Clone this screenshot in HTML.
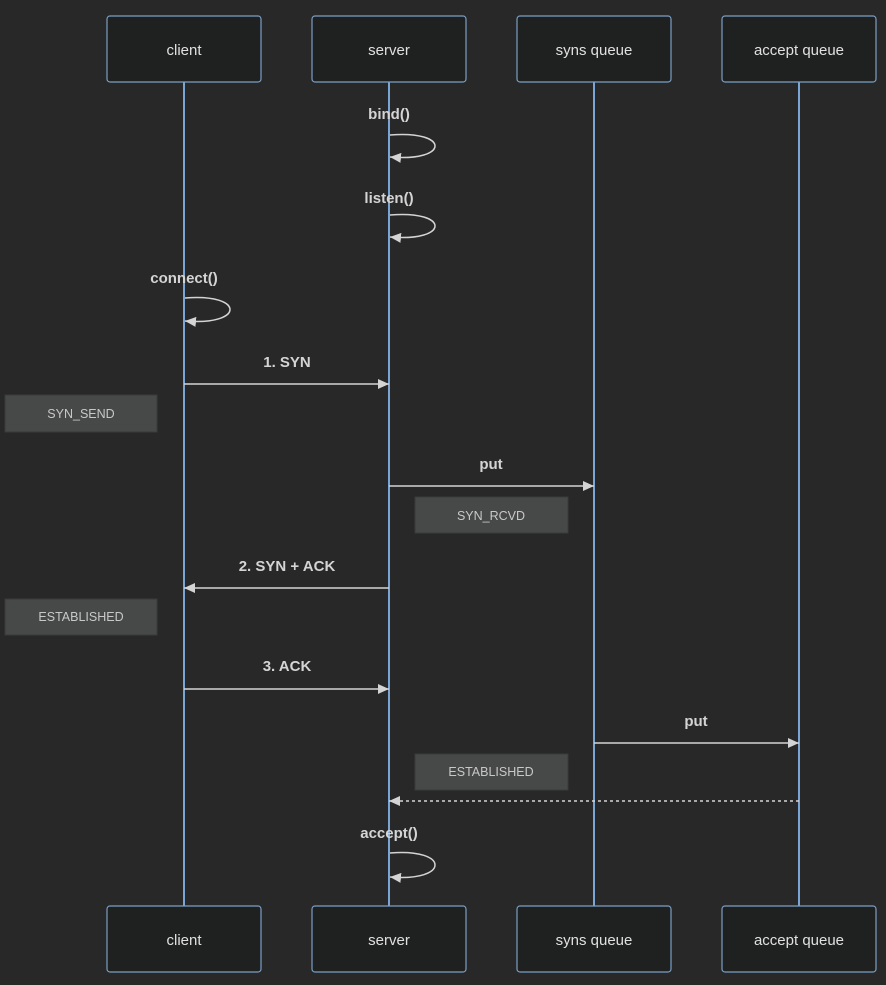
<!DOCTYPE html>
<html><head><meta charset="utf-8"><style>
html,body{margin:0;padding:0;background:#282828;}
svg{display:block;}
text{font-family:"Liberation Sans","DejaVu Sans",sans-serif;}
.a{font-size:15px;fill:#e0e0e0;text-anchor:middle;}
.m{font-size:15px;font-weight:bold;fill:#d4d4d4;text-anchor:middle;}
.n{font-size:12.5px;fill:#c8c8c8;text-anchor:middle;}
</style></head><body>
<svg width="886" height="985" viewBox="0 0 886 985" xmlns="http://www.w3.org/2000/svg">
<defs>
<marker id="ar" markerWidth="12" markerHeight="10" refX="11" refY="5" orient="auto" markerUnits="userSpaceOnUse">
<path d="M0,0 L11,5 L0,10 z" fill="#d4d4d4"/></marker>
</defs>
<rect width="886" height="985" fill="#282828"/>
<!-- lifelines -->
<g stroke="#7aa6d6" stroke-width="2">
<line x1="184" y1="82" x2="184" y2="906"/>
<line x1="389" y1="82" x2="389" y2="906"/>
<line x1="594" y1="82" x2="594" y2="906"/>
<line x1="799" y1="82" x2="799" y2="906"/>
</g>
<!-- actor boxes -->
<g fill="#1f2020" stroke="#7a9fc6" stroke-width="1.2">
<rect x="107" y="16" width="154" height="66" rx="3"/>
<rect x="312" y="16" width="154" height="66" rx="3"/>
<rect x="517" y="16" width="154" height="66" rx="3"/>
<rect x="722" y="16" width="154" height="66" rx="3"/>
<rect x="107" y="906" width="154" height="66" rx="3"/>
<rect x="312" y="906" width="154" height="66" rx="3"/>
<rect x="517" y="906" width="154" height="66" rx="3"/>
<rect x="722" y="906" width="154" height="66" rx="3"/>
</g>
<g class="a">
<text x="184" y="55">client</text><text x="389" y="55">server</text>
<text x="594" y="55">syns queue</text><text x="799" y="55">accept queue</text>
<text x="184" y="945">client</text><text x="389" y="945">server</text>
<text x="594" y="945">syns queue</text><text x="799" y="945">accept queue</text>
</g>
<!-- notes -->
<g fill="#474848" stroke="#3a3a3a" stroke-width="1">
<rect x="5" y="395" width="152" height="37"/>
<rect x="415" y="497" width="153" height="36"/>
<rect x="5" y="599" width="152" height="36"/>
<rect x="415" y="754" width="153" height="36"/>
</g>
<g class="n">
<text x="81" y="418">SYN_SEND</text>
<text x="491" y="520">SYN_RCVD</text>
<text x="81" y="621">ESTABLISHED</text>
<text x="491" y="776">ESTABLISHED</text>
</g>
<!-- self loops -->
<g fill="none" stroke="#d4d4d4" stroke-width="1.5">
<path d="M390,135 C450,130 450,162 390,157" marker-end="url(#ar)"/>
<path d="M390,215 C450,210 450,242 390,237" marker-end="url(#ar)"/>
<path d="M185,298 C245,293 245,326 185,321" marker-end="url(#ar)"/>
<path d="M390,853 C450,848 450,882 390,877" marker-end="url(#ar)"/>
</g>
<g class="m">
<text x="389" y="119">bind()</text>
<text x="389" y="203">listen()</text>
<text x="184" y="283">connect()</text>
<text x="389" y="838">accept()</text>
<text x="287" y="367">1. SYN</text>
<text x="491" y="469">put</text>
<text x="287" y="571">2. SYN + ACK</text>
<text x="287" y="671">3. ACK</text>
<text x="696" y="726">put</text>
</g>
<!-- messages -->
<g stroke="#d4d4d4" stroke-width="1.5" fill="none">
<line x1="184" y1="384" x2="389" y2="384" marker-end="url(#ar)"/>
<line x1="389" y1="486" x2="594" y2="486" marker-end="url(#ar)"/>
<line x1="389" y1="588" x2="184" y2="588" marker-end="url(#ar)"/>
<line x1="184" y1="689" x2="389" y2="689" marker-end="url(#ar)"/>
<line x1="594" y1="743" x2="799" y2="743" marker-end="url(#ar)"/>
<line x1="799" y1="801" x2="389" y2="801" stroke-dasharray="3,3" marker-end="url(#ar)"/>
</g>
</svg>
</body></html>
